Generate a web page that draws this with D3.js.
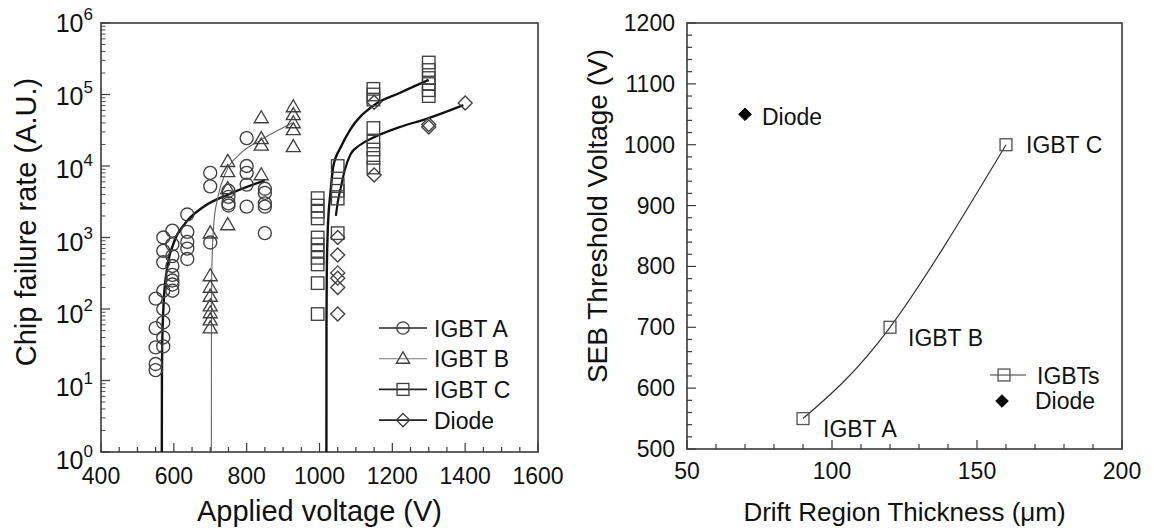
<!DOCTYPE html>
<html><head><meta charset="utf-8">
<script src="https://cdn.jsdelivr.net/npm/d3@7"></script>
<style>
body{margin:0;background:#fff}
svg{display:block}
text{font-family:Arial,"Liberation Sans",Helvetica,sans-serif;fill:#111}
</style>
</head><body>
<svg id="chart" width="1154" height="531"></svg>
<script>
// ---------- LEFT PANEL DATA (applied voltage V, chip failure rate A.U.) ----------
const igbtA = [
  [550, [140, 54, 29, 17, 14]],
  [571, [1000, 650, 450, 180, 100, 65, 40, 30]],
  [596, [1250, 800, 550, 400, 300, 250, 220, 180]],
  [637, [2100, 1200, 870, 700, 500]],
  [700, [8000, 5200, 850]],
  [750, [4500, 3700, 3000, 2800]],
  [800, [24500, 10000, 8000, 5500, 2700]],
  [850, [4800, 4200, 3000, 2700, 1150]]
];
const igbtB = [
  [700, [1150, 290, 200, 150, 110, 88, 70, 54]],
  [748, [11500, 8300, 4800, 1500]],
  [840, [47000, 24000, 19500, 7500]],
  [928, [67000, 52000, 40000, 32000, 18500]]
];
const igbtC = [
  [995, [3550, 2800, 2300, 1850, 1000, 800, 650, 520, 420, 230, 85]],
  [1050, [10000, 5500, 4500, 3500, 1150]],
  [1148, [120000, 100000, 85000, 34000, 22000, 17000, 13000, 9500]],
  [1300, [280000, 220000, 170000, 140000, 115000, 95000]]
];
const diode = [
  [1050, [1000, 570, 320, 270, 200, 85]],
  [1150, [78000, 7500]],
  [1300, [38000, 35000]],
  [1400, [76000]]
];
// fitted trend curves
const fitA = [[567,1],[567.3,10],[568,30],[572,120],[580,330],[600,850],[630,1550],[680,2650],[750,4000],[850,6300]];
const fitB = [[703,1],[703.2,40],[704,280],[706,700],[710,1600],[720,3500],[742,8000],[780,14500],[838,23000],[925,40000]];
const fitC = [[1019,1],[1019.2,60],[1020,300],[1022,1000],[1025,2200],[1029,3700],[1038,10000],[1060,19000],[1084,32000],[1148,70000],[1220,105000],[1300,160000]];
const fitD = [[1045,2000],[1050,3100],[1057,4600],[1070,9000],[1085,14500],[1110,19500],[1148,25000],[1220,35000],[1296,46000],[1395,71000]];
const leftXTicks = [400, 600, 800, 1000, 1200, 1400, 1600];
const leftYTicks = [0, 1, 2, 3, 4, 5, 6]; // exponents
const leftLegend = ["IGBT A", "IGBT B", "IGBT C", "Diode"];

// ---------- RIGHT PANEL DATA (drift thickness um, SEB threshold V) ----------
const igbtNames = ["IGBT A", "IGBT B", "IGBT C"];
const igbtThickness = [90, 120, 160];
const igbtThreshold = [550, 700, 1000];
const diodeThickness = [70];
const diodeThreshold = [1050];
const rightXTicks = [50, 100, 150, 200];
const rightYTicks = [500, 600, 700, 800, 900, 1000, 1100, 1200];

const svg = d3.select("#chart");
const INK = "#3a3a3a";

// ---------- marker helpers ----------
function marker(g, type, x, y, opt = {}) {
  const s = opt.s || 1, stroke = opt.stroke || "#404040", sw = opt.sw || 1.35;
  if (type === "circle") {
    g.append("circle").attr("cx", x).attr("cy", y).attr("r", 6.5 * s)
      .attr("fill", "none").attr("stroke", stroke).attr("stroke-width", sw);
  } else if (type === "triangle") {
    const h = 12 * s, w = 14 * s;
    g.append("path").attr("d", `M${x},${y - h * 0.6}L${x + w / 2},${y + h * 0.4}L${x - w / 2},${y + h * 0.4}Z`)
      .attr("fill", "none").attr("stroke", stroke).attr("stroke-width", sw);
  } else if (type === "square") {
    const a = 12.5 * s;
    g.append("rect").attr("x", x - a / 2).attr("y", y - a / 2).attr("width", a).attr("height", a)
      .attr("fill", "none").attr("stroke", stroke).attr("stroke-width", sw);
  } else if (type === "diamond") {
    const r = 7 * s;
    g.append("path").attr("d", `M${x},${y - r}L${x + r},${y}L${x},${y + r}L${x - r},${y}Z`)
      .attr("fill", opt.fill || "none").attr("stroke", stroke).attr("stroke-width", sw);
  }
}

// =================== LEFT PANEL ===================
const L = {x0: 101, x1: 538, y0: 23, y1: 452};
const xL = d3.scaleLinear().domain([400, 1600]).range([L.x0, L.x1]);
const yL = d3.scaleLog().domain([1, 1e6]).range([L.y1, L.y0]);

const gL = svg.append("g");
svg.append("defs").append("clipPath").attr("id", "clipL")
  .append("rect").attr("x", L.x0).attr("y", L.y0).attr("width", L.x1 - L.x0).attr("height", L.y1 - L.y0);

// x ticks (inward), major 200, minor 50
for (let v = 400; v <= 1600; v += 50) {
  const major = v % 200 === 0;
  gL.append("line").attr("x1", xL(v)).attr("x2", xL(v)).attr("y1", L.y1).attr("y2", L.y1 - (major ? 9 : 5))
    .attr("stroke", INK).attr("stroke-width", 1.2);
}
leftXTicks.forEach(v => {
  gL.append("text").attr("x", xL(v)).attr("y", 484).attr("text-anchor", "middle")
    .attr("font-size", 23).text(v);
});
// y ticks (log) major + minor
for (let e = 0; e <= 6; e++) {
  for (let k = 1; k <= 9; k++) {
    const v = k * Math.pow(10, e);
    if (v > 1e6) break;
    const y = yL(v);
    gL.append("line").attr("x1", L.x0).attr("x2", L.x0 + (k === 1 ? 9 : 4.5)).attr("y1", y).attr("y2", y)
      .attr("stroke", INK).attr("stroke-width", k === 1 ? 1.2 : 0.9);
  }
}
leftYTicks.forEach(e => {
  const y = yL(Math.pow(10, e)) + 8 * (1 - e / 6) + 9;
  const t = gL.append("text").attr("x", 93).attr("y", y).attr("text-anchor", "end");
  t.append("tspan").attr("font-size", 25).text("10");
  t.append("tspan").attr("font-size", 17).attr("dy", -12).text(e);
});
// frame
gL.append("rect").attr("x", L.x0).attr("y", L.y0).attr("width", L.x1 - L.x0).attr("height", L.y1 - L.y0)
  .attr("fill", "none").attr("stroke", INK).attr("stroke-width", 1.6);

// fit curves
const lineL = d3.line().x(d => xL(d[0])).y(d => yL(d[1])).curve(d3.curveMonotoneX);
const curves = gL.append("g").attr("clip-path", "url(#clipL)");
curves.append("path").attr("d", lineL(fitA)).attr("fill", "none").attr("stroke", "#111").attr("stroke-width", 2.4);
curves.append("path").attr("d", lineL(fitB)).attr("fill", "none").attr("stroke", "#666").attr("stroke-width", 1.1);
curves.append("path").attr("d", lineL(fitC)).attr("fill", "none").attr("stroke", "#111").attr("stroke-width", 2.4);
curves.append("path").attr("d", lineL(fitD)).attr("fill", "none").attr("stroke", "#111").attr("stroke-width", 2.2);

// points
const pts = gL.append("g");
function drawGroups(groups, type) {
  groups.forEach(([v, rates]) => rates.forEach(r => marker(pts, type, xL(v), yL(r))));
}
drawGroups(igbtA, "circle");
drawGroups(igbtB, "triangle");
drawGroups(igbtC, "square");
drawGroups(diode, "diamond");

// legend
const legTypes = ["circle", "triangle", "square", "diamond"];
const legStroke = [{c: "#222", w: 1.6}, {c: "#777", w: 1.1}, {c: "#222", w: 1.6}, {c: "#222", w: 1.6}];
leftLegend.forEach((name, i) => {
  const y = 328 + i * 30.7;
  gL.append("line").attr("x1", 379).attr("x2", 427).attr("y1", y).attr("y2", y)
    .attr("stroke", legStroke[i].c).attr("stroke-width", legStroke[i].w);
  marker(gL, legTypes[i], 403, y, {s: 0.95});
  gL.append("text").attr("x", 434).attr("y", y + 8.5).attr("font-size", 23).text(name);
});

// axis titles
gL.append("text").attr("x", xL(1000)).attr("y", 521).attr("text-anchor", "middle")
  .attr("font-size", 29).text("Applied voltage (V)");
gL.append("text").attr("transform", "translate(36,222) rotate(-90)").attr("text-anchor", "middle")
  .attr("font-size", 29).text("Chip failure rate (A.U.)");

// =================== RIGHT PANEL ===================
const R = {x0: 687, x1: 1122, y0: 23, y1: 449};
const xR = d3.scaleLinear().domain([50, 200]).range([R.x0, R.x1]);
const yR = d3.scaleLinear().domain([500, 1200]).range([R.y1, R.y0]);
const gR = svg.append("g");

for (let v = 50; v <= 200; v += 10) {
  const major = v % 50 === 0;
  gR.append("line").attr("x1", xR(v)).attr("x2", xR(v)).attr("y1", R.y1).attr("y2", R.y1 - (major ? 9 : 5))
    .attr("stroke", INK).attr("stroke-width", 1.2);
}
for (let v = 500; v <= 1200; v += 20) {
  const major = v % 100 === 0;
  gR.append("line").attr("x1", R.x0).attr("x2", R.x0 + (major ? 9 : 5)).attr("y1", yR(v)).attr("y2", yR(v))
    .attr("stroke", INK).attr("stroke-width", 1.2);
}
rightXTicks.forEach(v => {
  gR.append("text").attr("x", xR(v)).attr("y", 479).attr("text-anchor", "middle").attr("font-size", 23).text(v);
});
rightYTicks.forEach(v => {
  gR.append("text").attr("x", 675).attr("y", yR(v) + 8).attr("text-anchor", "end").attr("font-size", 23).text(v);
});
gR.append("rect").attr("x", R.x0).attr("y", R.y0).attr("width", R.x1 - R.x0).attr("height", R.y1 - R.y0)
  .attr("fill", "none").attr("stroke", INK).attr("stroke-width", 1.6);

const igbtPts = igbtThickness.map((t, i) => [t, igbtThreshold[i]]);
const lineR = d3.line().x(d => xR(d[0])).y(d => yR(d[1])).curve(d3.curveNatural);
gR.append("path").attr("d", lineR(igbtPts)).attr("fill", "none").attr("stroke", "#333").attr("stroke-width", 1.2);
igbtPts.forEach(d => marker(gR, "square", xR(d[0]), yR(d[1]), {s: 0.95, stroke: "#555"}));
diodeThickness.forEach((t, i) => marker(gR, "diamond", xR(t), yR(diodeThreshold[i]), {s: 0.9, fill: "#000", stroke: "#000", sw: 1}));

// point labels
const labOff = [[20, 10], [18, 10], [20, 0]];
igbtPts.forEach((d, i) => {
  gR.append("text").attr("x", xR(d[0]) + labOff[i][0]).attr("y", yR(d[1]) + labOff[i][1] + 8.5)
    .attr("font-size", 23).text(igbtNames[i]);
});
gR.append("text").attr("x", xR(diodeThickness[0]) + 17).attr("y", yR(diodeThreshold[0]) + 10.5)
  .attr("font-size", 23).text("Diode");

// legend
gR.append("line").attr("x1", 990).attr("x2", 1026).attr("y1", 375).attr("y2", 375).attr("stroke", "#333").attr("stroke-width", 1.2);
marker(gR, "square", 1004, 375, {s: 0.95, stroke: "#555"});
gR.append("text").attr("x", 1037).attr("y", 384).attr("font-size", 23).text("IGBTs");
marker(gR, "diamond", 1002, 401, {s: 0.9, fill: "#000", stroke: "#000", sw: 1});
gR.append("text").attr("x", 1035).attr("y", 409).attr("font-size", 23).text("Diode");

// axis titles
gR.append("text").attr("x", xR(125)).attr("y", 521).attr("text-anchor", "middle")
  .attr("font-size", 26).text("Drift Region Thickness (μm)");
gR.append("text").attr("transform", "translate(607,216) rotate(-90)").attr("text-anchor", "middle")
  .attr("font-size", 28).text("SEB Threshold Voltage (V)");
</script>
</body></html>
